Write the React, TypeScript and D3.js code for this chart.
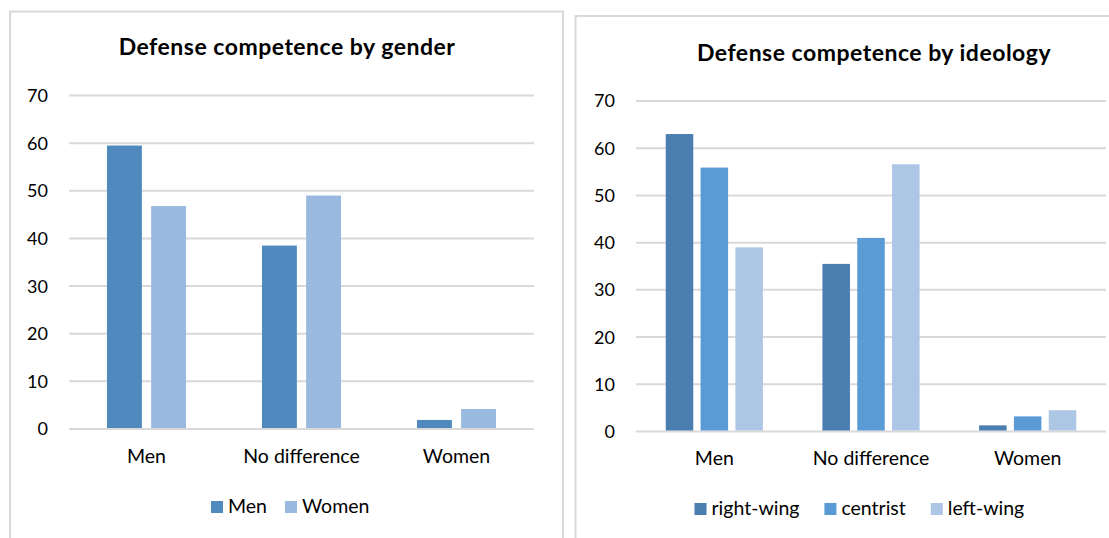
import React from "react";
import * as d3 from "d3";

const categories = ["Men", "No difference", "Women"];
const yTicks = [0, 10, 20, 30, 40, 50, 60, 70];

const genderSeries = ["Men", "Women"];
const genderMen = [59.5, 38.5, 1.9];
const genderWomen = [46.8, 49.0, 4.2];
const genderColors = ["#4F89BD", "#9AB9DF"];

const ideologySeries = ["right-wing", "centrist", "left-wing"];
const ideologyRight = [63.0, 35.5, 1.3];
const ideologyCentrist = [55.9, 41.0, 3.2];
const ideologyLeft = [39.0, 56.6, 4.5];
const ideologyColors = ["#4A7EB0", "#5B9BD5", "#ADC6E6"];

const FONT = "Lato, 'Open Sans', sans-serif";

type PanelProps = {
  title: string;
  series: string[];
  values: number[][];
  colors: string[];
  box: { x: number; y: number; w: number; h: number };
  plot: { left: number; right: number; top: number; bottom: number };
  groupFrac: number;
  titleX: number;
  titleY: number;
  labelRight: number;
  catY: number;
  legendY: number;
  legendX: number;
  legendGap: number;
};

function Panel(p: PanelProps) {
  const x0 = d3.scaleBand<string>().domain(categories).range([p.plot.left, p.plot.right]).padding(0);
  const bw = x0.bandwidth();
  const gw = bw * p.groupFrac;
  const x1 = d3
    .scaleBand<string>()
    .domain(p.series)
    .range([(bw - gw) / 2, (bw + gw) / 2])
    .paddingInner(0.21)
    .paddingOuter(0);
  const y = d3.scaleLinear().domain([0, 70]).range([p.plot.bottom, p.plot.top]);

  return (
    <g>
      <rect
        x={p.box.x}
        y={p.box.y}
        width={p.box.w}
        height={p.box.h}
        fill="#fff"
        stroke="#D9D9D9"
        strokeWidth={2}
      />
      <text
        x={p.titleX}
        y={p.titleY}
        textAnchor="middle"
        fontFamily={FONT}
        fontWeight="bold"
        fontSize={23}
        letterSpacing={0.5}
        fill="#000"
      >
        {p.title}
      </text>
      {yTicks.map((t) => (
        <g key={t}>
          <line
            x1={p.plot.left}
            x2={p.plot.right}
            y1={y(t)}
            y2={y(t)}
            stroke="#D9D9D9"
            strokeWidth={2}
          />
          <text
            x={p.labelRight}
            y={y(t)}
            dy="0.36em"
            textAnchor="end"
            fontFamily={FONT}
            fontSize={18}
            fill="#000"
          >
            {t}
          </text>
        </g>
      ))}
      {categories.map((c, ci) => (
        <g key={c} transform={`translate(${x0(c)},0)`}>
          {p.series.map((s, si) => (
            <rect
              key={s}
              x={x1(s)}
              y={y(p.values[si][ci])}
              width={x1.bandwidth()}
              height={y(0) - y(p.values[si][ci]) - 1}
              fill={p.colors[si]}
            />
          ))}
          <text
            x={bw / 2}
            y={p.catY}
            textAnchor="middle"
            fontFamily={FONT}
            fontSize={19.5}
            fill="#000"
          >
            {c}
          </text>
        </g>
      ))}
      <Legend
        series={p.series}
        colors={p.colors}
        x={p.legendX}
        y={p.legendY}
        gap={p.legendGap}
      />
    </g>
  );
}

function Legend({
  series,
  colors,
  x,
  y,
  gap,
}: {
  series: string[];
  colors: string[];
  x: number;
  y: number;
  gap: number;
}) {
  const ref = React.useRef<SVGGElement>(null);
  React.useEffect(() => {
    if (!ref.current) return;
    const g = d3.select(ref.current);
    g.selectAll("*").remove();
    let cx = x;
    series.forEach((s, i) => {
      g.append("rect")
        .attr("x", cx)
        .attr("y", y - 12)
        .attr("width", 12)
        .attr("height", 12)
        .attr("fill", colors[i]);
      const t = g
        .append("text")
        .attr("x", cx + 17)
        .attr("y", y)
        .attr("font-family", FONT)
        .attr("font-size", 19.5)
        .attr("fill", "#000")
        .text(s);
      const w = (t.node() as SVGTextElement).getComputedTextLength();
      cx += 17 + w + gap;
    });
  }, [series, colors, x, y, gap]);
  return <g ref={ref} />;
}

export default function App() {
  return (
    <svg
      width={1109}
      height={538}
      style={{ position: "absolute", left: 0, top: 0, display: "block", background: "#fff" }}
    >
      <Panel
        title="Defense competence by gender"
        series={genderSeries}
        values={[genderMen, genderWomen]}
        colors={genderColors}
        box={{ x: 10, y: 11.5, w: 553, h: 540 }}
        plot={{ left: 69, right: 534, top: 95.5, bottom: 429 }}
        groupFrac={0.51}
        titleX={287}
        titleY={55}
        labelRight={48}
        catY={463}
        legendX={211}
        legendY={513}
        legendGap={18}
      />
      <Panel
        title="Defense competence by ideology"
        series={ideologySeries}
        values={[ideologyRight, ideologyCentrist, ideologyLeft]}
        colors={ideologyColors}
        box={{ x: 575.5, y: 16, w: 545, h: 540 }}
        plot={{ left: 636, right: 1106, top: 101, bottom: 431.5 }}
        groupFrac={0.62}
        titleX={874}
        titleY={61}
        labelRight={615}
        catY={465}
        legendX={694.5}
        legendY={515}
        legendGap={25}
      />
    </svg>
  );
}
